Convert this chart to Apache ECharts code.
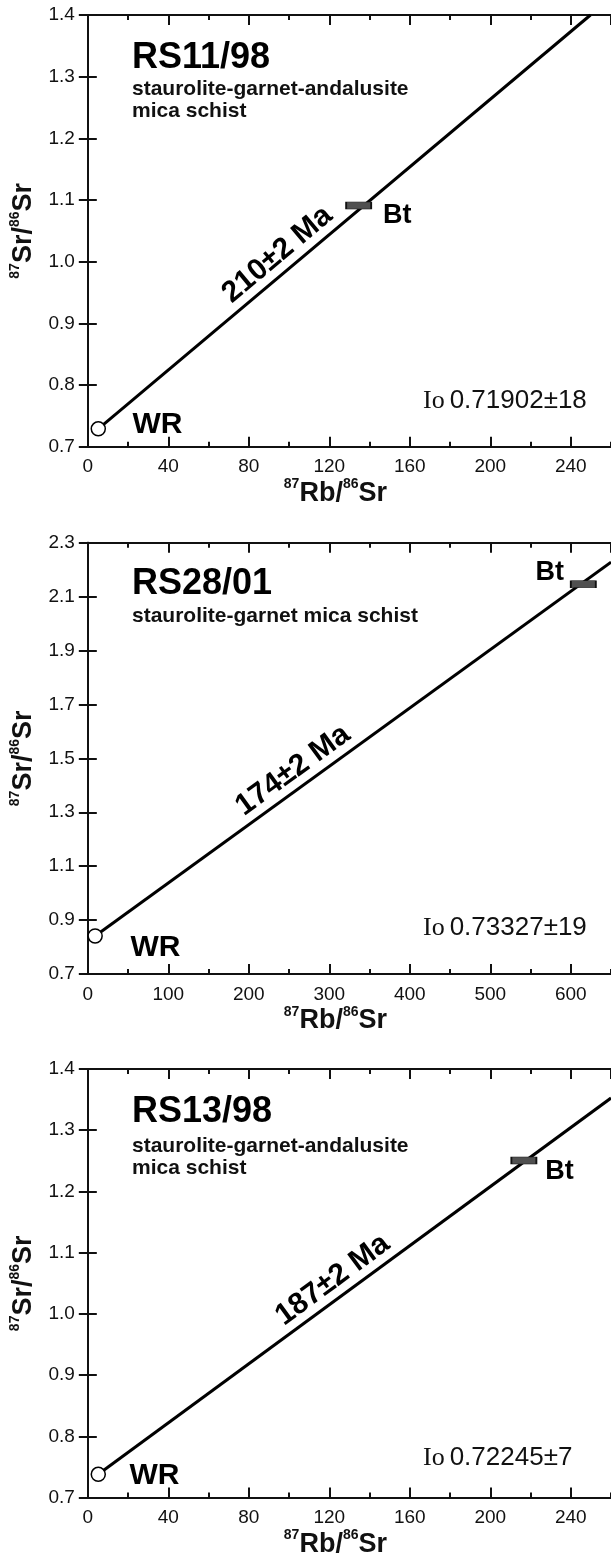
<!DOCTYPE html>
<html><head><meta charset="utf-8">
<script src="https://cdn.jsdelivr.net/npm/echarts@6/dist/echarts.min.js"></script>
<style>html,body{margin:0;padding:0;background:#fff}#c{width:611px;height:1559px}</style>
</head><body><div id="c"></div>
<script>
// ---- data ----
const sampleNames = ['RS11/98', 'RS28/01', 'RS13/98'];
const rockTypes = ['staurolite-garnet-andalusite\nmica schist', 'staurolite-garnet mica schist', 'staurolite-garnet-andalusite\nmica schist'];
const ages = ['210±2 Ma', '174±2 Ma', '187±2 Ma'];
const initialRatios = ['0.71902±18', '0.73327±19', '0.72245±7'];
const wrPoints = [[5.2, 0.729], [9.1, 0.841], [5.2, 0.738]];
const btPoints = [[134.6, 1.091], [615.6, 2.146], [216.7, 1.2505]];
const isochronEnds = [[249.8, 1.4], [650, 2.228], [260, 1.3525]];
const xMax = [260, 650, 260];
const xMajor = [40, 100, 40];
const xMinor = [20, 50, 20];
const yMin = [0.7, 0.7, 0.7];
const yMax = [1.4, 2.3, 1.4];
const yStep = [0.1, 0.2, 0.1];

// ---- layout ----
const FONT = '"Liberation Sans", Arial, sans-serif';
const SERIF = '"Liberation Serif", "Times New Roman", serif';
const gridTops = [15, 542.7, 1069];
const gridHeights = [431.7, 431.3, 434];
const GRID_LEFT = 86, GRID_W = 533;
const ageAnchorX = [100, 268, 127];
const wrLabel = [{d: 27, o: -4}, {d: 28, o: 12}, {d: 24, o: 1}];
const btLabel = [{p: 'right', d: 11, o: 10}, {p: 'left', d: 6, o: -12}, {p: 'right', d: 8, o: 11}];
const titleTops = [40, 566, 1094];
const titleGaps = [2, 3, 5];
const ioTops = [387, 914, 1444];
const INK = '#111';

const chart = echarts.init(document.getElementById('c'), null, {renderer: 'canvas'});

const grids = [], xAxes = [], yAxes = [], series = [], titles = [];
const supRich = {
  b: {fontSize: 27, fontWeight: 'bold', fontFamily: FONT, color: INK, lineHeight: 32},
  s: {fontSize: 14, fontWeight: 'bold', fontFamily: FONT, color: INK, verticalAlign: 'top', lineHeight: 32, padding: [0, 0, 13, 0]}
};
for (let i = 0; i < 3; i++) {
  grids.push({left: GRID_LEFT, top: gridTops[i], width: GRID_W, height: gridHeights[i], containLabel: false});
  const axLine = {show: true, lineStyle: {color: INK, width: 2}};
  const baseX = {gridIndex: i, type: 'value', min: 0, max: xMax[i], splitLine: {show: false}, axisLine: axLine};
  xAxes.push(Object.assign({}, baseX, {
    position: 'bottom', interval: xMajor[i],
    axisTick: {show: true, inside: true, length: 10, lineStyle: {color: INK, width: 2}},
    axisLabel: {show: true, margin: 11, fontSize: 19, color: INK, fontFamily: FONT, showMaxLabel: false},
    name: '{s|87}{b|Rb/}{s|86}{b|Sr}', nameLocation: 'middle', nameGap: 24,
    nameTextStyle: {rich: supRich, padding: [0, 28, 0, 0]}
  }));
  xAxes.push(Object.assign({}, baseX, {
    position: 'bottom', interval: xMinor[i], axisLine: {show: false},
    axisTick: {show: true, inside: true, length: 5, lineStyle: {color: INK, width: 2}},
    axisLabel: {show: false}
  }));
  xAxes.push(Object.assign({}, baseX, {
    position: 'top', interval: xMajor[i],
    axisTick: {show: true, inside: true, length: 10, lineStyle: {color: INK, width: 2}},
    axisLabel: {show: false}
  }));
  xAxes.push(Object.assign({}, baseX, {
    position: 'top', interval: xMinor[i], axisLine: {show: false},
    axisTick: {show: true, inside: true, length: 5, lineStyle: {color: INK, width: 2}},
    axisLabel: {show: false}
  }));
  const baseY = {gridIndex: i, type: 'value', min: yMin[i], max: yMax[i], interval: yStep[i], splitLine: {show: false}, axisLine: axLine,
    axisTick: {show: true, inside: true, length: 9, lineStyle: {color: INK, width: 2}}};
  yAxes.push(Object.assign({}, baseY, {
    position: 'left',
    axisLabel: {show: true, margin: 13, fontSize: 19, color: INK, fontFamily: FONT, formatter: v => v.toFixed(1)},
    name: '{s|87}{b|Sr/}{s|86}{b|Sr}', nameLocation: 'middle', nameGap: 43, nameRotate: 90,
    nameTextStyle: {rich: supRich}
  }));
  yAxes.push(Object.assign({}, baseY, {position: 'right', axisLabel: {show: false}}));

  const xi = i * 4, yi = i * 2;
  series.push({
    type: 'line', xAxisIndex: xi, yAxisIndex: yi, data: [wrPoints[i], isochronEnds[i]],
    showSymbol: false, symbol: 'none', lineStyle: {color: '#000', width: 3}, clip: true, z: 2, silent: true
  });
  series.push({
    type: 'scatter', xAxisIndex: xi, yAxisIndex: yi, data: [btPoints[i]],
    symbol: 'rect', symbolSize: [25, 7], z: 4,
    itemStyle: {color: '#505050', borderColor: '#111', borderWidth: 1, opacity: 1},
    label: {show: true, formatter: 'Bt', position: btLabel[i].p, distance: btLabel[i].d, offset: [0, btLabel[i].o],
      fontSize: 27, fontWeight: 'bold', fontFamily: FONT, color: '#000'}
  });
  series.push({
    type: 'scatter', xAxisIndex: xi, yAxisIndex: yi, data: [wrPoints[i]],
    symbol: 'circle', symbolSize: 14, z: 5,
    itemStyle: {color: '#fff', borderColor: '#000', borderWidth: 1.5, opacity: 1},
    label: {show: true, formatter: 'WR', position: 'right', distance: wrLabel[i].d - 0.5, offset: [0, wrLabel[i].o],
      fontSize: 30, fontWeight: 'bold', fontFamily: FONT, color: '#000'}
  });

  titles.push({
    text: sampleNames[i], subtext: rockTypes[i], left: 132, top: titleTops[i], padding: 0, itemGap: titleGaps[i],
    textStyle: {fontSize: 36, fontWeight: 'bold', fontFamily: FONT, color: '#000', lineHeight: 36},
    subtextStyle: {fontSize: 21, fontWeight: 'bold', fontFamily: FONT, color: INK, lineHeight: 22}
  });
  titles.push({
    text: '{io|Io} {v|' + initialRatios[i] + '}', left: 423, top: ioTops[i], padding: 0,
    textStyle: {fontWeight: 'normal', rich: {
      io: {fontSize: 26, fontWeight: 'normal', fontFamily: SERIF, color: INK, lineHeight: 28},
      v: {fontSize: 26, fontWeight: 'normal', fontFamily: FONT, color: INK, lineHeight: 28}
    }}
  });
}

chart.setOption({
  animation: false, backgroundColor: '#fff',
  title: titles, grid: grids, xAxis: xAxes, yAxis: yAxes, series: series
});

const ageSeries = [];
for (let i = 0; i < 3; i++) {
  const finder = {xAxisIndex: i * 4, yAxisIndex: i * 2};
  const p0 = chart.convertToPixel(finder, wrPoints[i]);
  const p1 = chart.convertToPixel(finder, isochronEnds[i]);
  const ang = Math.atan2(-(p1[1] - p0[1]), p1[0] - p0[0]) * 180 / Math.PI;
  const t = (ageAnchorX[i] - wrPoints[i][0]) / (isochronEnds[i][0] - wrPoints[i][0]);
  const ay = wrPoints[i][1] + t * (isochronEnds[i][1] - wrPoints[i][1]);
  ageSeries.push({
    type: 'scatter', xAxisIndex: i * 4, yAxisIndex: i * 2, data: [[ageAnchorX[i], ay]],
    symbolSize: 0, itemStyle: {color: '#000', opacity: 1}, z: 6, silent: true,
    label: {show: true, formatter: ages[i], position: 'inside', rotate: ang, offset: [0, -18],
      fontSize: 30, fontWeight: 'bold', fontFamily: FONT, color: '#000', opacity: 1,
      textBorderWidth: 0, textBorderColor: 'transparent'}
  });
}
chart.setOption({series: series.concat(ageSeries)});
</script>
</body></html>
